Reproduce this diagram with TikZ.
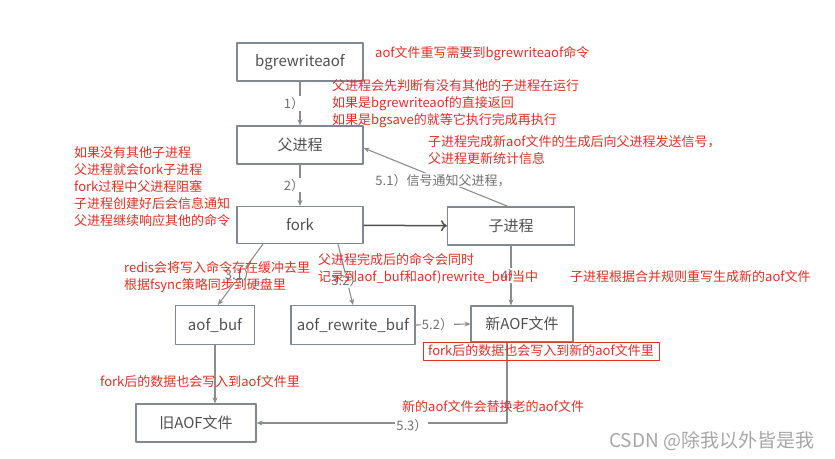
\documentclass[tikz,border=0pt]{standalone}
\usepackage{fontspec}
\setmainfont{Noto Sans CJK SC}
\usetikzlibrary{arrows.meta}
\definecolor{hong}{RGB}{232,45,35}
\definecolor{kuang}{RGB}{128,136,148}
\definecolor{wenzi}{RGB}{80,80,80}
\definecolor{xian}{RGB}{140,140,140}
\begin{document}
\begin{tikzpicture}[x=1pt,y=-1pt,>={Stealth[length=6pt,width=5pt]},line join=round,
	box/.style={draw=kuang,line width=1.1pt,fill=white,text=wenzi,inner sep=0pt,font=\fontsize{15}{18}\selectfont},
	gl/.style={->,draw=xian,line width=1.1pt},
	lab/.style={fill=white,text=xian!80!black,inner sep=1pt,font=\fontsize{13}{15}\selectfont},
	note/.style={anchor=west,align=left,text=hong,inner sep=0pt,font=\fontsize{13}{17}\selectfont}]
	\useasboundingbox (0,0) rectangle (835,458);
	% boxes
	\node[box,minimum width=126,minimum height=38] (bgr) at (300,62) {bgrewriteaof};
	\node[box,minimum width=126,minimum height=38] (fu) at (300,145) {父进程};
	\node[box,minimum width=126,minimum height=37] (fork) at (300,225) {fork};
	\node[box,minimum width=127,minimum height=38] (zi) at (511,226) {子进程};
	\node[box,minimum width=79,minimum height=39] (abuf) at (215,325) {aof\_buf};
	\node[box,minimum width=124,minimum height=39] (arbuf) at (353,325) {aof\_rewrite\_buf};
	\node[box,minimum width=102,minimum height=36] (xin) at (522,324) {新AOF文件};
	\node[box,minimum width=120,minimum height=38] (jiu) at (196,423) {旧AOF文件};
	% connectors
	\draw[gl] (bgr) -- node[lab,xshift=-6pt]{1）} (fu);
	\draw[gl] (fu) -- node[lab,xshift=-6pt]{2）} (fork);
	\draw[->,draw=wenzi,line width=1.5pt,>={To[length=6pt,width=11pt]}] (fork) -- (zi);
	\draw[gl] ([xshift=-3pt]zi.north) -- node[lab,pos=0.45]{5.1）信号通知父进程，} ([yshift=-3pt]fu.east);
	\draw[gl] ([xshift=-37pt]fork.south) -- node[lab]{3.1）} ([xshift=3pt]abuf.north);
	\draw[gl] ([xshift=38pt]fork.south) -- node[lab,pos=0.6]{3.2）} (arbuf.north);
	\draw[gl] (zi.south) -- node[lab]{4）} (zi.south |- xin.north);
	\draw[gl] (arbuf.east) -- node[lab,pos=0.4]{5.2）} (xin.west);
	\draw[gl] ([xshift=-15pt]xin.south) |- node[lab,pos=0.69,yshift=-3pt]{5.3）} (jiu.east);
	\draw[gl] (abuf.south) -- (abuf.south |- jiu.north);
	% notes
	\node[note] at (375,54) {aof文件重写需要到bgrewriteaof命令};
	\node[note] at (332,104) {父进程会先判断有没有其他的子进程在运行\\如果是bgrewriteaof的直接返回\\如果是bgsave的就等它执行完成再执行};
	\node[note] at (428,150) {子进程完成新aof文件的生成后向父进程发送信号，\\父进程更新统计信息};
	\node[note] at (74,187) {如果没有其他子进程\\父进程就会fork子进程\\fork过程中父进程阻塞\\子进程创建好后会信息通知\\父进程继续响应其他的命令};
	\node[note] at (124,277) {redis会将写入命令存在缓冲去里\\根据fsync策略同步到硬盘里};
	\node[note] at (318,269) {父进程完成后的命令会同时\\记录到aof\_buf和aof)rewrite\_buf当中};
	\node[note] at (570,277) {子进程根据合并规则重写生成新的aof文件};
	\node[draw=hong,line width=0.8pt,text=hong,inner sep=0pt,minimum width=236,minimum height=18,font=\fontsize{13}{15}\selectfont] (hbox) at (541,351) {fork后的数据也会写入到新的aof文件里};
	\node[note] at (100,382) {fork后的数据也会写入到aof文件里};
	\node[note] at (402,407) {新的aof文件会替换老的aof文件};
	\node[anchor=west,inner sep=0pt,text=black!35,font=\fontsize{19}{21}\selectfont] at (609,441) {CSDN @除我以外皆是我};
\end{tikzpicture}
\end{document}
